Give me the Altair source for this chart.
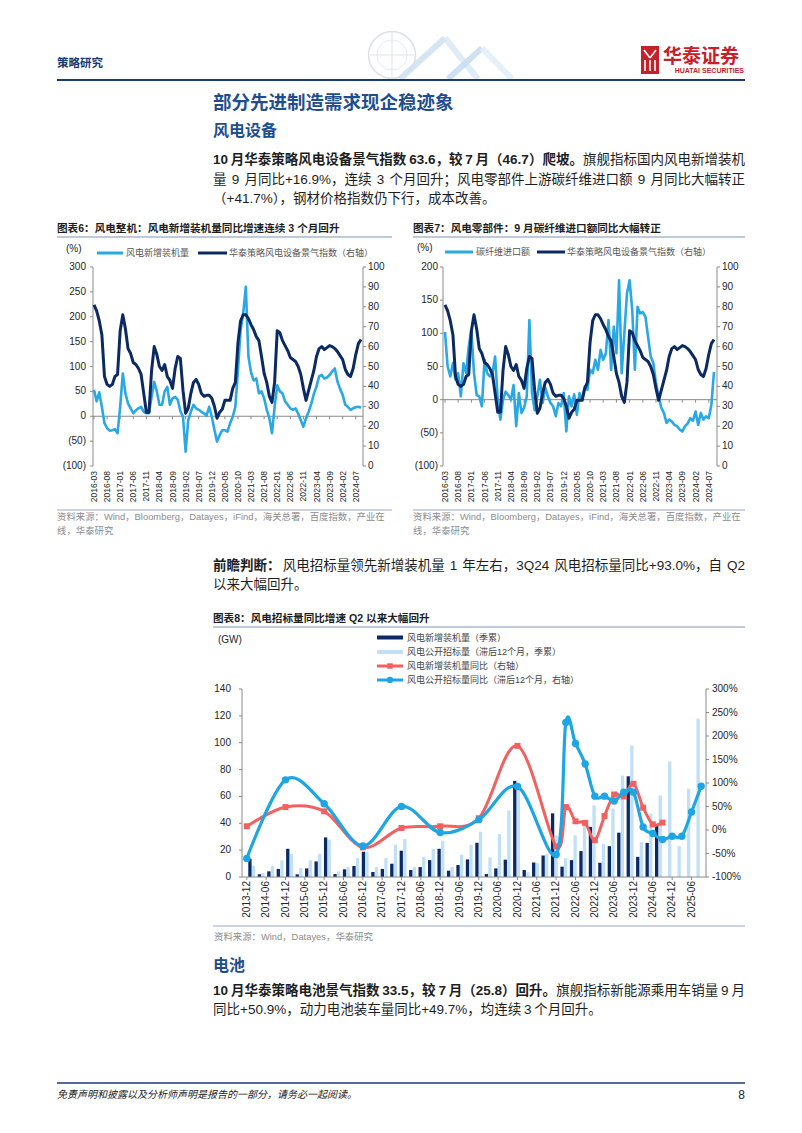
import altair as alt
import pandas as pd

OX = OY = 8
W, H = 786, 1117
LAT = "Liberation Sans, Noto Sans CJK SC"

NAVY = "#0b2a64"
LIGHT = "#29a8e3"
BAR_LIGHT = "#c0e1f5"
RED = "#f26161"
BLUE = "#1ea6e4"
AXIS = "#8a8a8a"
LABEL = "#262626"
TXT = "#1e1e1e"
HEAD_BLUE = "#1f4e8f"
RULE_NAVY = "#1b3a6e"
RULE_GREY = "#a9b8cc"
SRC_GREY = "#8c8c8c"
LOGO_RED = "#c8202a"

# ---------------- data ----------------
# monthly, 2016-03 .. 2024-09 (103 months)
wind_index = [81, 78, 73, 66, 45, 41, 40, 41, 45, 46,
              68, 76, 69, 59, 56.5, 52, 51, 49, 46, 36.5,
              27, 27, 48, 60, 56, 50, 48, 51, 45, 43,
              39, 49, 55, 54, 38, 26.5, 29, 36.5, 42, 43.5,
              41, 36.5, 35, 35.5, 35.5, 34, 30, 24, 27, 28.5,
              33, 33, 33, 39, 42, 62, 73, 76, 76, 74,
              71, 68.5, 65, 63, 55, 46.5, 42, 35, 32, 42,
              68, 67, 63, 60.5, 58, 54.5, 53.5, 52.5, 50, 46,
              39, 33, 38, 43, 48, 55, 59, 60, 58.5, 59.5,
              60.5, 60, 59, 57.5, 55.5, 53.5, 48.5, 46, 45, 49,
              56, 61.5, 63.6]
install_yoy = [53, 30, 48, 19, -14, -24, -29, -28, -26, -34,
               19, 86, 46, 26, 16, 6, 12, 16, 19, 9,
               6, 6, 39, 69, 50, 23, 23, 50, 59, 23,
               36, 39, 33, 10, -1, -71, -8, 9, 23, 16,
               13, 9, 6, 1, 19, -1, -27, -51, -38, -28,
               -28, -31, -14, -1, 19, 93, 173, 207, 260, 120,
               88, 72, 76, 46, 50, 36, 13, -4, -34, 19,
               62, 50, 46, 30, 23, 16, 13, 16, 5, -8,
               -21, -4, 9, 25, 45, 60, 80, 83, 76, 78,
               83, 90, 96, 70, 55, 43, 23, 19, 13, 16,
               18, 19, 17]
carbon_yoy = [102, 50, 35, 55, 30, 40, 5, 55, 40, 80,
              105, 40, 7, 5, -10, 60, 40, 35, 40, 65,
              0, -30, 0, 12, 7, 0, 22, -40, 10, -20,
              -12, 5, 120, 10, -16, 5, 30, -5, 18, 5,
              -5, -10, -25, -5, -10, 10, -48, 5, -10, 8,
              -23, 10, 0, 20, 15, 45, 40, 60, 45, 75,
              60, 70, 120, 45, 110, 70, 180, 40, 100, 160,
              180, 135, 45, 140, 130, 132, 125, 95, 65, 55,
              25, 5, -12, -20, -35, -30, -33, -38, -40, -45,
              -48, -40, -36, -28, -32, -18, -38, -20, -30, -25,
              -28, -8, 42]
month_ticks = ["2016-03", "2016-08", "2017-01", "2017-06", "2017-11", "2018-04", "2018-09",
               "2019-02", "2019-07", "2019-12", "2020-05", "2020-10", "2021-03", "2021-08",
               "2022-01", "2022-06", "2022-11", "2023-04", "2023-09", "2024-02", "2024-07"]

# quarterly, 2013-12 .. 2025-09 (48 quarters)
install_q = [13.6, 2, 4.2, 6, 21, 2, 6.4, 11.6, 29.5, 2.2,
             5.7, 8.2, 18.8, 3.7, 6, 9.9, 19.6, 5.2, 7.4, 12.6,
             21, 4.7, 8.9, 13.1, 25.5, 2.2, 6.4, 12.9, 71.6, 5.2,
             10.8, 16, 47.4, 7.7, 12.6, 19.3, 37.3, 10.6, 23, 33,
             75, 15, 25.4, 38.5]
tender_q = [8.4, 3, 8, 12.4, 17, 6.7, 12.4, 17.3, 27.8, 4.2,
            7.4, 14.1, 19, 7.4, 14.1, 24, 28.3, 7.4, 14.9, 21,
            27, 7.4, 16.6, 24, 33.7, 14.6, 32, 49.6, 65, 3.5,
            10.4, 17, 31, 14, 31, 40, 53.3, 24.4, 51, 75.5,
            97.8, 26, 47, 60.7, 86, 23, 65.7, 118]
red_q = [0, 4, 8, 12, 16, 20, 24, 28, 32, 33, 34, 35, 36, 37, 38, 39, 40, 41, 42, 43]
red_yoy = [7.9, 48.8, 39.7, -37, 4.3, 7.9, 25, 179, -35, 48.8,
           18.5, 15, -21.7, 29.7, 75.6, 71.4, 98.3, 47.5, 12, 15.7]
blue_q = [0, 4, 8, 12, 16, 20, 24, 28, 32, 33, 34, 35, 36, 37, 38, 39, 40, 41, 42, 43, 44, 45, 46, 47]
blue_yoy = [-60.4, 106.7, 56, -33.8, 50.2, -5.4, 22, 92.6, -52, 228.6,
            184, 140.6, 72, 72, 61.5, 80.5, 80.5, 6.4, -7.5, -20.2,
            -13.2, -13.2, 38.2, 93]
quarter_ticks = ["2013-12", "2014-06", "2014-12", "2015-06", "2015-12", "2016-06", "2016-12",
                 "2017-06", "2017-12", "2018-06", "2018-12", "2019-06", "2019-12", "2020-06",
                 "2020-12", "2021-06", "2021-12", "2022-06", "2022-12", "2023-06", "2023-12",
                 "2024-06", "2024-12", "2025-06"]

left6_vals = [-100, -50, 0, 50, 100, 150, 200, 250, 300]
left6_labs = ["(100)", "(50)", "0\u00a0", "50\u00a0", "100\u00a0", "150\u00a0", "200\u00a0", "250\u00a0", "300\u00a0"]
left7_vals = [-100, -50, 0, 50, 100, 150, 200]
left7_labs = ["(100)", "(50)", "0\u00a0", "50\u00a0", "100\u00a0", "150\u00a0", "200\u00a0"]
right_vals = [0, 10, 20, 30, 40, 50, 60, 70, 80, 90, 100]
right_labs = ["0", "10", "20", "30", "40", "50", "60", "70", "80", "90", "100"]
left8_vals = [0, 20, 40, 60, 80, 100, 120, 140]
left8_labs = ["0", "20", "40", "60", "80", "100", "120", "140"]
right8_vals = [-100, -50, 0, 50, 100, 150, 200, 250, 300]
right8_labs = ["-100%", "-50%", "0%", "50%", "100%", "150%", "200%", "250%", "300%"]

# ---------------- helpers ----------------
ONE = pd.DataFrame({"k": [0]})
layers = []


def T(text, x, y, size=13, color=TXT, weight="normal", align="left", style=None):
    kw = dict(text=text, fontSize=size, color=color, fontWeight=weight, align=align,
              baseline="middle", font=LAT)
    if style:
        kw["fontStyle"] = style
    layers.append(alt.Chart(ONE).mark_text(**kw).encode(x=alt.value(x - OX), y=alt.value(y - OY)))


def R(x1, y1, x2, y2, color, w=1.0, opacity=1.0):
    layers.append(alt.Chart(ONE).mark_rule(color=color, strokeWidth=w, opacity=opacity).encode(
        x=alt.value(x1 - OX), y=alt.value(y1 - OY), x2=alt.value(x2 - OX), y2=alt.value(y2 - OY)))


def BOX(x1, y1, x2, y2, color, opacity=1.0):
    layers.append(alt.Chart(ONE).mark_rect(color=color, opacity=opacity).encode(
        x=alt.value(x1 - OX), y=alt.value(y1 - OY), x2=alt.value(x2 - OX), y2=alt.value(y2 - OY)))


def DOT(x, y, shape, size, color, filled=True, sw=1.0, opacity=1.0):
    layers.append(alt.Chart(ONE).mark_point(shape=shape, size=size, color=color, filled=filled,
                                            strokeWidth=sw, opacity=opacity).encode(
        x=alt.value(x - OX), y=alt.value(y - OY)))


# --- justified text lines: chunks split at spaces / weight changes, extra space spread over gaps ---
LATW = {"+": 0.584, "-": 0.333, ".": 0.278, "%": 0.889, "Q": 0.778, "(": 0.333, ")": 0.333}
SPACE_EM = 0.2


def width_em(s):
    return sum(1.0 if ord(c) > 127 else LATW.get(c, 0.556) for c in s)


def text_line(segments, x0, y, size, color=TXT, x1=None):
    items = []
    for txt, wt in segments:
        for k, part in enumerate(txt.split(" ")):
            if part:
                items.append((part, width_em(part), wt, SPACE_EM if k > 0 else 0.0))
    natural = sum(w for _, w, _, _ in items) + sum(g for _, _, _, g in items[1:])
    extra = 0.0
    if x1 is not None and len(items) > 1:
        extra = max(0.0, (x1 - x0 - natural * size) / (len(items) - 1))
    cur = x0
    rows = {"normal": [], "bold": []}
    for k, (part, w, wt, g) in enumerate(items):
        if k > 0:
            cur += g * size + extra
        rows[wt].append({"x": cur - OX, "y": y - OY, "t": part})
        cur += w * size
    for wt, rr in rows.items():
        if rr:
            layers.append(alt.Chart(pd.DataFrame(rr)).mark_text(
                align="left", baseline="middle", fontSize=size, fontWeight=wt, font=LAT, color=color
            ).encode(x=alt.X("x:Q", scale=None, axis=None), y=alt.Y("y:Q", scale=None, axis=None),
                     text="t:N"))


def sc(domain, r0, r1):
    return alt.Scale(domain=domain, range=[r0, r1], zero=False, nice=False)


def y_labels(vals, labs, scale, x, align, size=10):
    df = pd.DataFrame({"v": vals, "lab": labs})
    layers.append(alt.Chart(df).mark_text(align=align, baseline="middle", fontSize=size, font=LAT,
                                          color=LABEL).encode(
        y=alt.Y("v:Q", scale=scale, axis=None), x=alt.value(x - OX), text="lab:N"))


def y_ticks(vals, scale, x1, x2):
    df = pd.DataFrame({"v": vals})
    layers.append(alt.Chart(df).mark_rule(color=AXIS, strokeWidth=1).encode(
        y=alt.Y("v:Q", scale=scale, axis=None), x=alt.value(x1 - OX), x2=alt.value(x2 - OX)))


def x_labels(pos, labs, scale, ytop, size):
    df = pd.DataFrame({"p": pos, "lab": labs})
    layers.append(alt.Chart(df).mark_text(angle=270, align="right", baseline="middle", fontSize=size,
                                          font=LAT, color=LABEL).encode(
        x=alt.X("p:Q", scale=scale, axis=None), y=alt.value(ytop - OY), text="lab:N"))


def x_baseline(xscale, yscale, x1, x2, pos, tick_units):
    z = pd.DataFrame({"z": [0]})
    layers.append(alt.Chart(z).mark_rule(color=AXIS, strokeWidth=1).encode(
        y=alt.Y("z:Q", scale=yscale, axis=None), x=alt.value(x1 - OX), x2=alt.value(x2 - OX)))
    t = pd.DataFrame({"p": pos, "z": [0] * len(pos), "z2": [tick_units] * len(pos)})
    layers.append(alt.Chart(t).mark_rule(color=AXIS, strokeWidth=1).encode(
        x=alt.X("p:Q", scale=xscale, axis=None), y=alt.Y("z:Q", scale=yscale, axis=None), y2="z2:Q"))


BODY = 13.5

# ---------------- page header ----------------
DOT(392, 55, "circle", 2200, "#d5d9de", filled=False, sw=1.5, opacity=0.8)
DOT(392, 55, "circle", 900, "#e2e5e9", filled=False, sw=1, opacity=0.8)
R(370, 55, 414, 55, "#e0e3e7", 1)
R(392, 32, 392, 78, "#e0e3e7", 1)
R(400, 79, 445, 38, "#cfe0f1", 6, 0.85)
R(445, 38, 478, 79, "#dbe8f4", 6, 0.85)
R(448, 79, 482, 48, "#c6dcf0", 6, 0.85)
R(482, 48, 512, 79, "#e2edf7", 6, 0.85)

T("策略研究", 57, 64, 11.5, RULE_NAVY, "bold")
BOX(641, 46, 659, 74, LOGO_RED)
R(644, 50, 650, 58, "white", 1.6)
R(656, 50, 650, 58, "white", 1.6)
R(645, 60, 645, 71, "white", 1.6)
R(650, 60, 650, 71, "white", 1.6)
R(655, 60, 655, 71, "white", 1.6)
T("华泰证券", 663, 57, 19, LOGO_RED, "bold")
T("HUATAI SECURITIES", 744, 70.5, 7, LOGO_RED, "bold", align="right")
R(57, 80, 745, 80, RULE_NAVY, 2)

T("部分先进制造需求现企稳迹象", 213, 103, 18.5, HEAD_BLUE, "bold")
T("风电设备", 213, 131, 16, HEAD_BLUE, "bold")
text_line([("10 月华泰策略风电设备景气指数 63.6，较 7 月（46.7）爬坡。", "bold"),
           ("旗舰指标国内风电新增装机", "normal")], 213, 160, BODY, x1=745)
text_line([("量 9 月同比+16.9%，连续 3 个月回升；风电零部件上游碳纤维进口额 9 月同比大幅转正", "normal")],
          213, 179.5, BODY, x1=745)
text_line([("（+41.7%），钢材价格指数仍下行，成本改善。", "normal")], 213, 199, BODY)

# ---------------- chart titles ----------------
T("图表6：风电整机：风电新增装机量同比增速连续 3 个月回升", 57, 229, 10.6, TXT, "bold")
R(57, 237, 392, 237, RULE_GREY, 1.5)
T("图表7：风电零部件：9 月碳纤维进口额同比大幅转正", 413, 229, 10.6, TXT, "bold")
R(413, 237, 745, 237, RULE_GREY, 1.5)

# ---------------- chart 6 ----------------
sx6 = sc([0, 102], 94 - OX, 361 - OX)
sy6L = sc([-100, 300], 466 - OY, 267 - OY)
sy6R = sc([0, 100], 466 - OY, 267 - OY)
df6 = pd.DataFrame({"i": list(range(len(wind_index))), "inst": install_yoy,
                    "idx": wind_index, "cf": carbon_yoy})

T("(%)", 66, 249, 10, LABEL)
R(97, 253, 123, 253, LIGHT, 3)
T("风电新增装机量", 126, 253, 9, "#555555")
R(198, 253, 227, 253, NAVY, 3)
T("华泰策略风电设备景气指数（右轴）", 229, 253, 9, "#555555")

R(93, 267, 93, 466, AXIS, 1)
R(363, 267, 363, 466, AXIS, 1)
y_ticks(left6_vals, sy6L, 90, 93)
y_labels(left6_vals, left6_labs, sy6L, 86, "right")
y_ticks(right_vals, sy6R, 363, 366)
y_labels(right_vals, right_labs, sy6R, 368, "left")
tick_pos6 = [0, 5, 10, 15, 20, 25, 30, 35, 40, 45, 50, 55, 60, 65, 70, 75, 80, 85, 90, 95, 100]
x_baseline(sx6, sy6L, 93, 363, tick_pos6, -6)
x_labels(tick_pos6, month_ticks, sx6, 471, 8.5)

layers.append(alt.Chart(df6).mark_line(color=LIGHT, strokeWidth=2.6, strokeJoin="round").encode(
    x=alt.X("i:Q", scale=sx6, axis=None), y=alt.Y("inst:Q", scale=sy6L, axis=None)))
layers.append(alt.Chart(df6).mark_line(color=NAVY, strokeWidth=3, strokeJoin="round").encode(
    x=alt.X("i:Q", scale=sx6, axis=None), y=alt.Y("idx:Q", scale=sy6R, axis=None)))

R(57, 510, 392, 510, "#b9c6d8", 1.5)
T("资料来源：Wind，Bloomberg，Datayes，iFind，海关总署，百度指数，产业在", 57, 517, 9.4, SRC_GREY)
T("线，华泰研究", 57, 531, 9.4, SRC_GREY)

# ---------------- chart 7 ----------------
sx7 = sc([0, 102], 445 - OX, 714 - OX)
sy7L = sc([-100, 200], 466 - OY, 267 - OY)
sy7R = sc([0, 100], 466 - OY, 267 - OY)

T("(%)", 417, 248, 10, LABEL)
R(445, 252, 473, 252, LIGHT, 3)
T("碳纤维进口额", 476, 252, 9, "#555555")
R(537, 252, 565, 252, NAVY, 3)
T("华泰策略风电设备景气指数（右轴）", 567, 252, 9, "#555555")

R(443, 267, 443, 466, AXIS, 1)
R(717, 267, 717, 466, AXIS, 1)
y_ticks(left7_vals, sy7L, 440, 443)
y_labels(left7_vals, left7_labs, sy7L, 438, "right")
y_ticks(right_vals, sy7R, 717, 720)
y_labels(right_vals, right_labs, sy7R, 722, "left")
x_baseline(sx7, sy7L, 443, 717, tick_pos6, -4.5)
x_labels(tick_pos6, month_ticks, sx7, 471, 8.5)

layers.append(alt.Chart(df6).mark_line(color=LIGHT, strokeWidth=2.6, strokeJoin="round").encode(
    x=alt.X("i:Q", scale=sx7, axis=None), y=alt.Y("cf:Q", scale=sy7L, axis=None)))
layers.append(alt.Chart(df6).mark_line(color=NAVY, strokeWidth=3, strokeJoin="round").encode(
    x=alt.X("i:Q", scale=sx7, axis=None), y=alt.Y("idx:Q", scale=sy7R, axis=None)))

R(413, 510, 745, 510, "#b9c6d8", 1.5)
T("资料来源：Wind，Bloomberg，Datayes，iFind，海关总署，百度指数，产业在", 413, 517, 9.4, SRC_GREY)
T("线，华泰研究", 413, 531, 9.4, SRC_GREY)

# ---------------- paragraph 2 ----------------
text_line([("前瞻判断：", "bold"),
           ("风电招标量领先新增装机量 1 年左右，3Q24 风电招标量同比+93.0%，自 Q2", "normal")],
          213, 566, BODY, x1=745)
text_line([("以来大幅回升。", "normal")], 213, 585, BODY)

# ---------------- chart 8 ----------------
T("图表8：风电招标量同比增速 Q2 以来大幅回升", 213, 619, 10.6, TXT, "bold")
R(213, 627, 745, 627, RULE_GREY, 1.5)
T("(GW)", 218, 640, 10, LABEL)

BOX(377, 635.5, 403, 639.5, NAVY)
T("风电新增装机量（季累）", 407, 637.5, 9, "#444444")
BOX(377, 650, 403, 654, BAR_LIGHT)
T("风电公开招标量（滞后12个月，季累）", 407, 652, 9, "#444444")
R(377, 666, 403, 666, RED, 3)
DOT(390, 666, "square", 30, RED)
T("风电新增装机量同比（右轴）", 407, 666, 9, "#444444")
R(377, 680, 403, 680, BLUE, 3)
DOT(390, 680, "circle", 40, BLUE)
T("风电公开招标量同比（滞后12个月，右轴）", 407, 680, 9, "#444444")

sx8 = sc([-0.5, 47.5], 242 - OX, 706 - OX)
sy8L = sc([0, 140], 877 - OY, 689 - OY)
sy8R = sc([-100, 300], 877 - OY, 689 - OY)

df8a = pd.DataFrame({"q": list(range(len(install_q))), "v": install_q})
df8b = pd.DataFrame({"q": list(range(len(tender_q))), "v": tender_q})
df8r = pd.DataFrame({"q": red_q, "v": red_yoy})
df8c = pd.DataFrame({"q": blue_q, "v": blue_yoy})

layers.append(alt.Chart(df8b).mark_bar(color=BAR_LIGHT, size=3.3, xOffset=1.8).encode(
    x=alt.X("q:Q", scale=sx8, axis=None), y=alt.Y("v:Q", scale=sy8L, axis=None)))
layers.append(alt.Chart(df8a).mark_bar(color=NAVY, size=3.3, xOffset=-1.8).encode(
    x=alt.X("q:Q", scale=sx8, axis=None), y=alt.Y("v:Q", scale=sy8L, axis=None)))

R(242, 689, 242, 877, AXIS, 1)
R(706, 689, 706, 877, AXIS, 1)
y_ticks(left8_vals, sy8L, 239, 242)
y_labels(left8_vals, left8_labs, sy8L, 231, "right")
y_ticks(right8_vals, sy8R, 706, 709)
y_labels(right8_vals, right8_labs, sy8R, 712, "left")
tick_pos8 = [0, 2, 4, 6, 8, 10, 12, 14, 16, 18, 20, 22, 24, 26, 28, 30, 32, 34, 36, 38, 40, 42, 44, 46]
x_baseline(sx8, sy8L, 242, 706, tick_pos8, -2.2)
x_labels(tick_pos8, quarter_ticks, sx8, 881, 10)

layers.append(alt.Chart(df8r).mark_line(color=RED, strokeWidth=3, interpolate="cardinal").encode(
    x=alt.X("q:Q", scale=sx8, axis=None), y=alt.Y("v:Q", scale=sy8R, axis=None)))
layers.append(alt.Chart(df8r).mark_point(shape="square", filled=True, size=36, color=RED, opacity=1).encode(
    x=alt.X("q:Q", scale=sx8, axis=None), y=alt.Y("v:Q", scale=sy8R, axis=None)))
layers.append(alt.Chart(df8c).mark_line(color=BLUE, strokeWidth=3.2, interpolate="cardinal").encode(
    x=alt.X("q:Q", scale=sx8, axis=None), y=alt.Y("v:Q", scale=sy8R, axis=None)))
layers.append(alt.Chart(df8c).mark_circle(size=55, color=BLUE, opacity=1).encode(
    x=alt.X("q:Q", scale=sx8, axis=None), y=alt.Y("v:Q", scale=sy8R, axis=None)))

R(213, 926, 745, 926, "#b9c6d8", 1.5)
T("资料来源：Wind，Datayes，华泰研究", 214, 937, 9.4, SRC_GREY)

# ---------------- battery section ----------------
T("电池", 213, 966, 16, HEAD_BLUE, "bold")
text_line([("10 月华泰策略电池景气指数 33.5，较 7 月（25.8）回升。", "bold"),
           ("旗舰指标新能源乘用车销量 9 月", "normal")], 213, 991, BODY, x1=745)
text_line([("同比+50.9%，动力电池装车量同比+49.7%，均连续 3 个月回升。", "normal")], 213, 1010, BODY)

# ---------------- footer ----------------
R(57, 1083, 745, 1083, RULE_NAVY, 1.5)
T("免责声明和披露以及分析师声明是报告的一部分，请务必一起阅读。", 57, 1095, 10, "#222222", style="italic")
T("8", 745, 1095, 12, "#222222", align="right")

chart = alt.layer(*layers).resolve_scale(x="independent", y="independent").properties(
    width=W, height=H, padding=0, background="white",
    autosize=alt.AutoSizeParams(type="none")
).configure_view(stroke=None)

chart.save("out.html", embed_options={"renderer": "svg", "actions": False})
